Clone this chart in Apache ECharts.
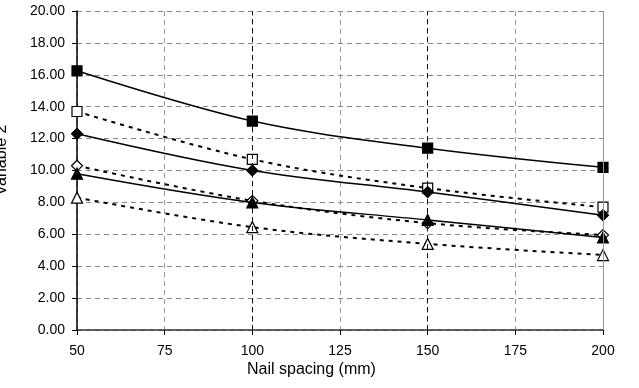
<!DOCTYPE html>
<html>
<head>
<meta charset="utf-8">
<script src="https://cdn.jsdelivr.net/npm/echarts@6/dist/echarts.min.js"></script>
<style>
  html, body { margin: 0; padding: 0; background: #fff; }
  #chart { width: 639px; height: 388px; }
</style>
</head>
<body>
<div id="chart"></div>
<script>
// Nail spacing (mm) on the x axis
const spacing = [50, 100, 150, 200];
const xTicks = [50, 75, 100, 125, 150, 175, 200];
const yTicks = [0, 2, 4, 6, 8, 10, 12, 14, 16, 18, 20];

// Variable 2 values for each curve
const squareSolid   = [16.25, 13.1, 11.4, 10.2];
const squareOpen    = [13.7, 10.7, 8.9, 7.7];
const diamondSolid  = [12.3, 10.0, 8.65, 7.2];
const diamondOpen   = [10.3, 8.1, 6.7, 5.95];
const triangleSolid = [9.8, 8.0, 6.9, 5.8];
const triangleOpen  = [8.3, 6.45, 5.4, 4.7];

const FONT = 'Liberation Sans, Arial, sans-serif';
const pairs = ys => spacing.map((x, i) => [x, ys[i]]);

function curve(name, ys, symbol, size, filled, dashed) {
  return {
    name: name,
    type: 'line',
    data: pairs(ys),
    smooth: 0.35,
    symbol: symbol,
    symbolSize: size,
    z: dashed ? 3 : 4,
    lineStyle: {
      color: '#000',
      width: dashed ? 2 : 1.5,
      type: dashed ? [4, 5] : 'solid'
    },
    itemStyle: {
      color: filled ? '#000' : '#fff',
      borderColor: '#000',
      borderWidth: 1.2,
      opacity: 1
    },
    emphasis: { disabled: true }
  };
}

const series = [
  curve('Square (solid)', squareSolid, 'rect', 10, true, false),
  curve('Square (open)', squareOpen, 'rect', 10, false, true),
  curve('Diamond (solid)', diamondSolid, 'diamond', 11, true, false),
  curve('Diamond (open)', diamondOpen, 'diamond', 11, false, true),
  curve('Triangle (solid)', triangleSolid, 'triangle', 11, true, false),
  curve('Triangle (open)', triangleOpen, 'triangle', 11, false, true)
];

// darker dashed verticals at 100 and 150, plain grey border at 200
series[0].markLine = {
  silent: true,
  symbol: 'none',
  label: { show: false },
  animation: false,
  data: [
    { xAxis: 100, lineStyle: { color: '#111', type: [5, 4], width: 1 } },
    { xAxis: 150, lineStyle: { color: '#111', type: [5, 4], width: 1 } },
    { xAxis: 200, lineStyle: { color: '#999', type: 'solid', width: 1 } }
  ]
};

const chart = echarts.init(document.getElementById('chart'), null, { renderer: 'canvas' });
chart.setOption({
  animation: false,
  backgroundColor: '#fff',
  grid: { left: 77, right: 36, top: 11, bottom: 58, containLabel: false },
  xAxis: {
    type: 'value',
    min: xTicks[0],
    max: xTicks[xTicks.length - 1],
    interval: xTicks[1] - xTicks[0],
    axisLine: { show: true, lineStyle: { color: '#333', width: 1.5 } },
    axisTick: { show: true, inside: false, length: 5, lineStyle: { color: '#000' } },
    axisLabel: { color: '#000', fontFamily: FONT, fontSize: 14, margin: 14 },
    splitLine: { show: true, lineStyle: { color: '#999', type: [5, 4], width: 1 } }
  },
  yAxis: {
    type: 'value',
    min: yTicks[0],
    max: yTicks[yTicks.length - 1],
    interval: yTicks[1] - yTicks[0],
    axisLine: { show: true, lineStyle: { color: '#000', width: 1.5 } },
    axisTick: { show: true, inside: false, length: 5, lineStyle: { color: '#000' } },
    axisLabel: {
      color: '#000', fontFamily: FONT, fontSize: 14, margin: 12,
      formatter: v => v.toFixed(2)
    },
    splitLine: { show: true, lineStyle: { color: '#888', type: [5, 4], width: 1 } }
  },
  graphic: [
    {
      type: 'text',
      left: 247, top: 362,
      style: { text: 'Nail spacing (mm)', fill: '#000', font: '16px ' + FONT }
    },
    {
      type: 'text',
      x: 2, y: 160,
      rotation: Math.PI / 2,
      style: {
        text: 'Variable 2', fill: '#000', font: '16px ' + FONT,
        align: 'center', verticalAlign: 'middle'
      }
    }
  ],
  series: series
});
</script>
</body>
</html>
